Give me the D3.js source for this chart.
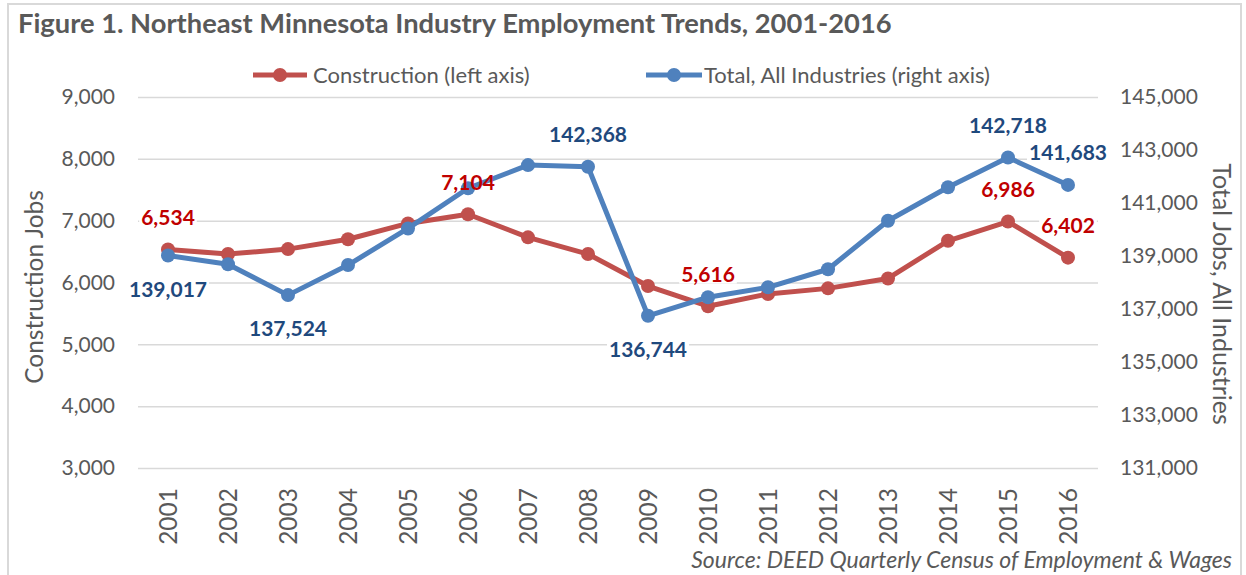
<!DOCTYPE html>
<html>
<head>
<meta charset="utf-8">
<script src="https://cdn.jsdelivr.net/npm/d3@7"></script>
<style>
  html, body { margin: 0; padding: 0; background: #fff; }
  svg { display: block; font-family: Lato, "Open Sans", sans-serif; }
</style>
</head>
<body>
<svg id="chart" width="1246" height="575"></svg>
<script>
// ---- data ----
const years = ["2001","2002","2003","2004","2005","2006","2007","2008","2009","2010","2011","2012","2013","2014","2015","2016"];
const construction = [6534, 6460, 6540, 6700, 6955, 7104, 6730, 6460, 5943, 5616, 5815, 5905, 6065, 6675, 6986, 6402];
const totalAll = [139017, 138690, 137524, 138660, 140040, 141555, 142430, 142368, 136744, 137445, 137820, 138500, 140330, 141595, 142718, 141683];
const leftTicks = [3000, 4000, 5000, 6000, 7000, 8000, 9000];
const rightTicks = [131000, 133000, 135000, 137000, 139000, 141000, 143000, 145000];
const constructionLabelYears = ["2001", "2006", "2010", "2015", "2016"];
const totalLabelYears = ["2001", "2003", "2008", "2009", "2015", "2016"];
const totalLabelsBelow = ["2001", "2003", "2009"];
const titleText = "Figure 1. Northeast Minnesota Industry Employment Trends, 2001-2016";
const seriesNames = ["Construction (left axis)", "Total, All Industries (right axis)"];
const leftTitle = "Construction Jobs";
const rightTitle = "Total Jobs, All Industries";
const sourceText = "Source: DEED Quarterly Census of Employment & Wages";

// ---- style ----
const RED = "#C0504D", RED_LBL = "#C00000", BLUE = "#4F81BD", BLUE_LBL = "#1F497D";
const GRAY = "#595959", GRID = "#D9D9D9";

const svg = d3.select("#chart");
const plot = { left: 138, right: 1098, top: 97, bottom: 468 };

// chart border
svg.append("rect").attr("x", 8).attr("y", 4).attr("width", 1233).attr("height", 580)
  .attr("fill", "none").attr("stroke", GRID).attr("stroke-width", 2);

const x = d3.scalePoint().domain(years).range([plot.left, plot.right]).padding(0.5);
const yL = d3.scaleLinear().domain([3000, 9000]).range([plot.bottom, plot.top]);
const yR = d3.scaleLinear().domain([131000, 145000]).range([plot.bottom, plot.top]);
const fmt = d3.format(",");

// gridlines
const grid = svg.append("g").attr("transform", `translate(${plot.left},0)`)
  .call(d3.axisLeft(yL).tickValues(leftTicks).tickSize(-(plot.right - plot.left)).tickFormat(""));
grid.select(".domain").remove();
grid.selectAll("line").attr("stroke", GRID).attr("stroke-width", 1.5);

// left axis labels
const ax = svg.append("g").attr("transform", `translate(${plot.left},0)`)
  .call(d3.axisLeft(yL).tickValues(leftTicks).tickSize(0).tickPadding(23).tickFormat(fmt));
ax.select(".domain").remove();
ax.selectAll("text").attr("fill", GRAY).style("font-size", "21px").style("font-family", "Lato");

// right axis labels
const axR = svg.append("g").attr("transform", `translate(${plot.right},0)`)
  .call(d3.axisRight(yR).tickValues(rightTicks).tickSize(0).tickPadding(22).tickFormat(fmt));
axR.select(".domain").remove();
axR.selectAll("text").attr("fill", GRAY).style("font-size", "21px").style("font-family", "Lato");

// x axis labels
const axX = svg.append("g").attr("transform", `translate(0,${plot.bottom})`)
  .call(d3.axisBottom(x).tickSize(0).tickPadding(0));
axX.select(".domain").remove();
axX.selectAll("text")
  .attr("fill", GRAY).style("font-size", "24.5px").style("font-family", "Lato")
  .attr("text-anchor", "end")
  .attr("transform", "rotate(-90)")
  .attr("x", -20).attr("y", 0).attr("dy", "0.36em");

// axis titles
svg.append("text").attr("transform", "translate(43,287) rotate(-90)")
  .attr("text-anchor", "middle").attr("fill", GRAY).style("font-size", "24.5px").text(leftTitle);
svg.append("text").attr("transform", "translate(1213,294) rotate(90)")
  .attr("text-anchor", "middle").attr("fill", GRAY).style("font-size", "25px").text(rightTitle);

// title
svg.append("text").attr("x", 18).attr("y", 33).attr("fill", GRAY)
  .style("font-size", "27.3px").style("font-weight", "bold").text(titleText);

// legend
const legend = [
  { name: seriesNames[0], color: RED, x1: 253, x2: 307, tx: 313 },
  { name: seriesNames[1], color: BLUE, x1: 646, x2: 702, tx: 704 }
];
legend.forEach(l => {
  svg.append("line").attr("x1", l.x1).attr("x2", l.x2).attr("y1", 75).attr("y2", 75)
    .attr("stroke", l.color).attr("stroke-width", 5);
  svg.append("circle").attr("cx", (l.x1 + l.x2) / 2).attr("cy", 75).attr("r", 7).attr("fill", l.color);
  svg.append("text").attr("x", l.tx).attr("y", 75).attr("dy", "0.35em").attr("fill", GRAY)
    .style("font-size", "22px").text(l.name);
});

// data labels (above the point, or below for some)
const ABOVE = -32, BELOW = 34;
const labels = [];
constructionLabelYears.forEach(yr => {
  const i = years.indexOf(yr);
  labels.push({ x: x(yr), y: yL(construction[i]) + ABOVE, t: fmt(construction[i]), c: RED_LBL });
});
totalLabelYears.forEach(yr => {
  const i = years.indexOf(yr);
  const off = totalLabelsBelow.includes(yr) ? BELOW : ABOVE;
  labels.push({ x: x(yr), y: yR(totalAll[i]) + off, t: fmt(totalAll[i]), c: BLUE_LBL });
});

const bgG = svg.append("g");
const lineG = svg.append("g");
const txtG = svg.append("g");

const lblText = txtG.selectAll("text").data(labels).join("text")
  .attr("x", d => d.x).attr("y", d => d.y).attr("dy", "0.35em")
  .attr("text-anchor", "middle").attr("fill", d => d.c)
  .style("font-size", "21px").style("font-weight", "bold").text(d => d.t);
// white backgrounds behind labels hide the gridlines
lblText.each(function (d) {
  const b = this.getBBox();
  bgG.append("rect").attr("x", b.x - 2).attr("y", b.y + 2).attr("width", b.width + 4).attr("height", b.height - 4).attr("fill", "#fff");
});

// series
const lineL = d3.line().x((d, i) => x(years[i])).y(d => yL(d));
const lineR = d3.line().x((d, i) => x(years[i])).y(d => yR(d));
lineG.append("path").datum(construction).attr("d", lineL).attr("fill", "none")
  .attr("stroke", RED).attr("stroke-width", 5).attr("stroke-linejoin", "round");
lineG.selectAll("circle.c").data(construction).join("circle").attr("class", "c")
  .attr("cx", (d, i) => x(years[i])).attr("cy", d => yL(d)).attr("r", 7).attr("fill", RED);
lineG.append("path").datum(totalAll).attr("d", lineR).attr("fill", "none")
  .attr("stroke", BLUE).attr("stroke-width", 5).attr("stroke-linejoin", "round");
lineG.selectAll("circle.t").data(totalAll).join("circle").attr("class", "t")
  .attr("cx", (d, i) => x(years[i])).attr("cy", d => yR(d)).attr("r", 7).attr("fill", BLUE);

// source
svg.append("text").attr("x", 1232).attr("y", 568).attr("text-anchor", "end").attr("fill", GRAY)
  .style("font-size", "23px").style("font-style", "italic").text(sourceText);
</script>
</body>
</html>
